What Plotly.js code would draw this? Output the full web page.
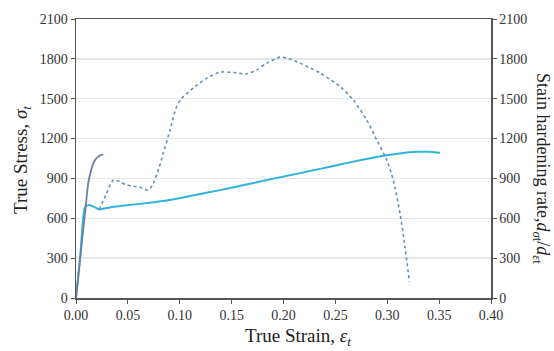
<!DOCTYPE html>
<html>
<head>
<meta charset="utf-8">
<script src="https://cdn.plot.ly/plotly-3.0.1.min.js"></script>
<style>html,body{margin:0;padding:0;background:#fff;}#chart{width:554px;height:351px;}</style>
</head>
<body>
<div id="chart"></div>
<script>
// Steep curve (gray-blue, solid)
const steepStrain = [0.000, 0.004, 0.0087, 0.0119, 0.0145, 0.0167, 0.0190, 0.0215, 0.0240, 0.0263];
const steepStress = [0, 300, 640, 870, 960, 1014, 1045, 1064, 1075, 1082];

// True stress-strain curve (cyan, solid)
const trueStrain = [0.000, 0.004, 0.0087, 0.0119, 0.0150, 0.0183, 0.0225, 0.0328, 0.0424, 0.0713, 0.0906, 0.1150, 0.1388, 0.1630, 0.1870, 0.2159, 0.2352, 0.2545, 0.2760, 0.2962, 0.3120, 0.3283, 0.3400, 0.3508];
const trueStress = [0, 300, 686, 699, 694, 682, 667, 682, 692, 717, 737, 775, 812, 852, 893, 940, 972, 1005, 1040, 1070, 1088, 1100, 1101, 1093];

// Strain hardening rate (dotted)
const hardStrain = [0.0225, 0.0290, 0.0360, 0.0424, 0.0489, 0.0617, 0.0697, 0.0745, 0.0800, 0.0841, 0.0906, 0.0970, 0.1019, 0.1130, 0.1260, 0.1388, 0.1516, 0.1645, 0.1742, 0.1838, 0.1966, 0.2031, 0.2159, 0.2352, 0.2545, 0.2673, 0.2802, 0.2899, 0.2995, 0.3058, 0.3123, 0.3171, 0.3213];
const hardRate = [667, 780, 888, 875, 850, 833, 812, 863, 980, 1089, 1265, 1441, 1504, 1580, 1655, 1700, 1697, 1687, 1717, 1768, 1813, 1806, 1768, 1693, 1592, 1491, 1340, 1190, 1039, 888, 637, 385, 121];

const yTicks = [0, 300, 600, 900, 1200, 1500, 1800, 2100];

const fam = '"Liberation Serif", serif';
const tickFont = {family: fam, size: 14, color: '#333'};
const titleFont = {family: fam, size: 19, color: '#222'};

const traces = [
  {x: hardStrain, y: hardRate, yaxis: 'y2', mode: 'lines', line: {color: '#5b93b8', width: 1.6, dash: 'dot', shape: 'spline', smoothing: 0.7}, hoverinfo: 'skip'},
  {x: trueStrain, y: trueStress, mode: 'lines', line: {color: '#2fb4dc', width: 2, shape: 'spline', smoothing: 0.6}, hoverinfo: 'skip'},
  {x: steepStrain, y: steepStress, mode: 'lines', line: {color: '#6d7ea6', width: 1.8, shape: 'spline', smoothing: 0.6}, hoverinfo: 'skip'}
];

const layout = {
  width: 554, height: 351,
  margin: {l: 76, r: 63, t: 19, b: 53},
  paper_bgcolor: '#fff', plot_bgcolor: '#fff',
  showlegend: false,
  font: {family: fam, size: 14, color: '#222'},
  xaxis: {
    range: [0, 0.4], dtick: 0.05, tick0: 0, tickformat: '.2f',
    showline: true, linecolor: '#555', linewidth: 1.5, mirror: true,
    ticks: 'outside', ticklen: 4, tickcolor: '#555',
    showgrid: false, zeroline: false,
    tickfont: tickFont
  },
  yaxis: {
    range: [0, 2100], tickvals: yTicks,
    showline: true, linecolor: '#555', linewidth: 1.5,
    ticks: 'outside', ticklen: 4, tickcolor: '#555',
    showgrid: true, gridcolor: '#e6e6e6', gridwidth: 1.5, zeroline: false,
    tickfont: tickFont
  },
  yaxis2: {
    range: [0, 2100], tickvals: yTicks, overlaying: 'y', side: 'right',
    showline: true, linecolor: '#555', linewidth: 1.5,
    ticks: 'outside', ticklen: 4, tickcolor: '#555',
    showgrid: false, zeroline: false,
    tickfont: tickFont
  },
  annotations: [
    {
      text: 'True Strain, <i>ε</i><sub><i>t</i></sub>',
      xref: 'paper', yref: 'paper', x: 0.535, y: -0.138, xanchor: 'center', yanchor: 'middle',
      showarrow: false, font: titleFont
    },
    {
      text: 'True Stress, <i>σ</i><sub><i>t</i></sub>',
      xref: 'paper', yref: 'paper', x: -0.130, y: 0.495, xanchor: 'center', yanchor: 'middle',
      textangle: -90, showarrow: false, font: titleFont
    },
    {
      text: 'Stain hardening rate,<i>d</i><sub><i>σ</i>t</sub>/<i>d</i><sub><i>ε</i>t</sub>',
      xref: 'paper', yref: 'paper', x: 1.1205, y: 0.466, xanchor: 'center', yanchor: 'middle',
      textangle: 90, showarrow: false, font: {family: fam, size: 18, color: '#222'}
    }
  ]
};

Plotly.newPlot('chart', traces, layout, {displayModeBar: false, staticPlot: true});
</script>
</body>
</html>
